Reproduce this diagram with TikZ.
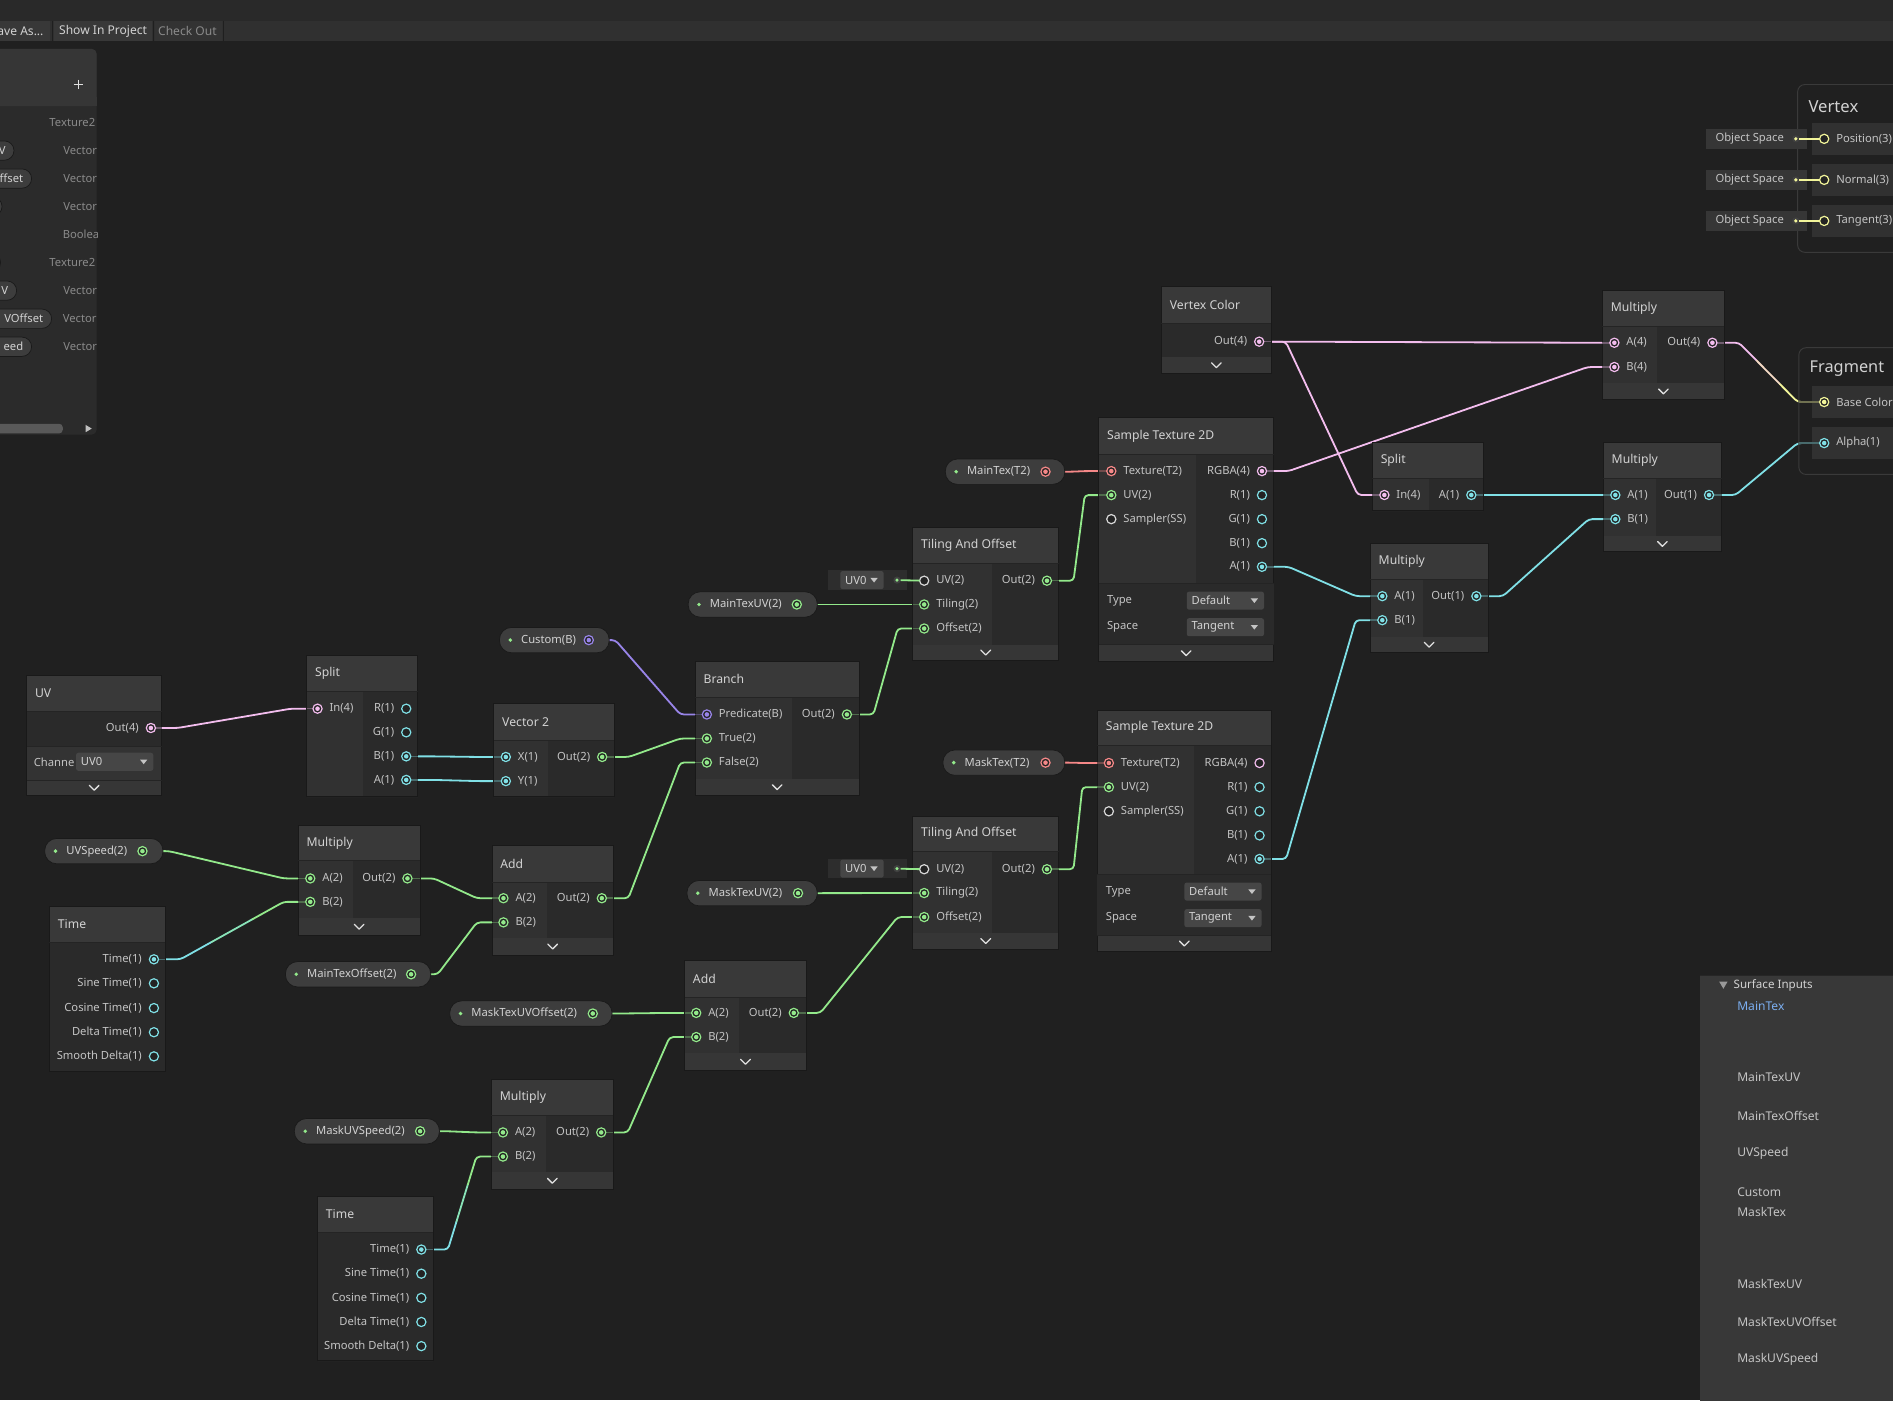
\documentclass[tikz,border=0pt]{standalone}
\usepackage{fontspec}
\setmainfont{Noto Sans}
\usetikzlibrary{calc}
\pgfdeclarelayer{bg}
\pgfdeclarelayer{wires}
\pgfsetlayers{bg,wires,main}
\definecolor{bgc}{HTML}{202020}
\definecolor{hdrc}{HTML}{393939}
\definecolor{inc}{HTML}{313131}
\definecolor{outc}{HTML}{2A2A2A}
\definecolor{footc}{HTML}{363636}
\definecolor{bordc}{HTML}{191919}
\definecolor{sepc}{HTML}{242424}
\definecolor{txtc}{HTML}{C4C4C4}
\definecolor{ttlc}{HTML}{D2D2D2}
\definecolor{dimc}{HTML}{8A8A8A}
\definecolor{pillc}{HTML}{3D3D3D}
\definecolor{pillb}{HTML}{1A1A1A}
\definecolor{pinkc}{HTML}{F3BDEE}
\definecolor{greenc}{HTML}{93E98B}
\definecolor{cyanc}{HTML}{80E0E6}
\definecolor{yellc}{HTML}{F2F59A}
\definecolor{redc}{HTML}{F58888}
\definecolor{purpc}{HTML}{9884E8}
\definecolor{whtc}{HTML}{D8D8D8}
\definecolor{ringbg}{HTML}{232323}
\definecolor{ddc}{HTML}{464646}
\definecolor{chevc}{HTML}{E0E0E0}
\definecolor{framec}{HTML}{3A3A3A}
\definecolor{rowc}{HTML}{313131}
\definecolor{panelc}{HTML}{383838}
\definecolor{bluec}{HTML}{7BAEF0}
\tikzset{
  every node/.style={inner sep=0pt,outer sep=0pt},
  lbl/.style={text=txtc,font=\fontsize{9.3}{11}\selectfont},
  ttl/.style={text=ttlc,font=\fontsize{10.1}{12}\selectfont,anchor=west},
  wire/.style={line width=1.5pt,rounded corners=3pt,line cap=round},
  portring/.style={circle,minimum size=7.6pt,line width=1pt,fill=ringbg},
}
% node body
\newcommand\gbox[9]{%
  \fill[hdrc] (#2,#3) rectangle (#4,#5);
  \fill[inc] (#2,#5) rectangle (#6,#7);
  \fill[outc] (#6,#5) rectangle (#4,#7);
  \fill[footc] (#2,#7) rectangle (#4,#8);
  \draw[line width=0.6pt,bordc] (#2,#3) rectangle (#4,#8);
  \draw[line width=0.6pt,sepc] (#2,#5) -- (#4,#5);
  \node[ttl] (#1) at ({#2+7},{(#3+#5)/2}) {#9};}
\newcommand\chev[2]{\draw[line width=1.1pt,chevc,line cap=round,line join=round] ({#1-4},{#2-2}) -- (#1,{#2+2}) -- ({#1+4},{#2-2});}
% ports
\newcommand\ipc[6]{%
  \draw[line width=1.3pt,#4!35!outc] (#5,#3) -- (#2,#3);
  \node[portring,draw=#4] (#1) at (#2,#3) {};
  \fill[#4] (#2,#3) circle (1.9pt);
  \node[lbl,anchor=west] (#1l) at ({#2+10},#3) {#6};}
\newcommand\ipo[5]{%
  \node[portring,draw=#4] (#1) at (#2,#3) {};
  \node[lbl,anchor=west] (#1l) at ({#2+10},#3) {#5};}
\newcommand\opc[6]{%
  \draw[line width=1.3pt,#4!35!outc] (#2,#3) -- (#5,#3);
  \node[portring,draw=#4] (#1) at (#2,#3) {};
  \fill[#4] (#2,#3) circle (1.9pt);
  \node[lbl,anchor=east] (#1l) at ({#2-10},#3) {#6};}
\newcommand\opo[5]{%
  \node[portring,draw=#4] (#1) at (#2,#3) {};
  \node[lbl,anchor=east] (#1l) at ({#2-10},#3) {#5};}
% pills
\newcommand\pill[7]{%
  \fill[pillc,draw=pillb,line width=0.6pt,rounded corners=10pt] (#2,{#4-10.5}) rectangle (#3,{#4+10.5});
  \fill[greenc] ({#2+9},#4) circle (1.6pt);
  \node[lbl,anchor=west,text=ttlc] (#1l) at ({#2+18},#4) {#5};
  \node[portring,draw=#6] (#1) at (#7,#4) {};
  \fill[#6] (#7,#4) circle (1.9pt);}
% dropdown
\newcommand\dd[5]{%
  \fill[ddc,rounded corners=2pt] (#2,{#4-7.5}) rectangle (#3,{#4+7.5});
  \node[lbl,anchor=west,text=ttlc] (#1) at ({#2+4},#4) {#5};
  \fill[txtc] ({#3-11},{#4-1.8}) -- ({#3-5},{#4-1.8}) -- ({#3-8},{#4+2}) -- cycle;}
\newcommand\uvbox[2]{%
  \fill[outc!80!hdrc] (686,{#2-8}) rectangle (751,{#2+8});
  \dd{#1t}{696}{732}{#2}{UV0}
  \node[circle,fill=black!75,minimum size=6pt] (#1) at (743,#2) {};
  \fill[greenc] (743,#2) circle (1.4pt);}
% wires
\newcommand\wire[3]{\begin{pgfonlayer}{wires}\draw[wire,#1] (#2.center) -- ++(22,0) -- ($(#3.center)+(-22,0)$) -- (#3.center);\end{pgfonlayer}}
\newcommand\gwire[4]{\begin{pgfonlayer}{wires}
  \coordinate (gwA) at ($(#3.center)+(22,0)$);
  \coordinate (gwB) at ($(#4.center)+(-22,0)$);
  \draw[wire,#1] (#3.center) -- (gwA) -- ($(gwA)!0.3!(gwB)$);
  \draw[wire,#1!50!#2] ($(gwA)!0.3!(gwB)$) -- ($(gwA)!0.7!(gwB)$);
  \draw[wire,#2] ($(gwA)!0.7!(gwB)$) -- (gwB) -- (#4.center);
\end{pgfonlayer}}
\begin{document}
\begin{tikzpicture}[x=1pt,y=-1pt]
\useasboundingbox (0,0) rectangle (1568,1160);
\begin{pgfonlayer}{bg}
\fill[bgc] (0,0) rectangle (1568,1160);
\end{pgfonlayer}
% ---------- top bar
\fill[black!84] (0,0) rectangle (1568,17);
\fill[black!81] (0,17) rectangle (1568,34);
\fill[black!78] (0,17) rectangle (41.5,34);
\fill[black!78] (45,17) rectangle (126,34);
\fill[black!80] (128,17) rectangle (184,34);
\draw[black!88,line width=1pt] (43.2,17) -- (43.2,34) (127,17) -- (127,34) (185,17) -- (185,34);
\node[anchor=east,text=ttlc,font=\fontsize{10}{11}\selectfont] (bSave) at (36,26) {ave As...};
\node[anchor=west,text=ttlc,font=\fontsize{10}{11}\selectfont] (bShow) at (49,26) {Show In Project};
\node[anchor=west,text=dimc,font=\fontsize{10}{11}\selectfont] (bCheck) at (131,26) {Check Out};
% ---------- blackboard
\begin{scope}
\clip (0,38) rectangle (80.5,362);
\fill[black!83,rounded corners=4pt] (-10,40.5) rectangle (80,360);
\fill[black!79,rounded corners=4pt] (-10,40.5) rectangle (80,88);
\fill[black!79] (-10,80) rectangle (80,88);
\draw[line width=1.1pt,chevc] (61,70) -- (69,70) (65,66) -- (65,74);
\foreach \tt/\yy/\xx [count=\i] in {Texture2/101.6/41,Vector/124.7/52.5,Vector/147.9/52.5,Vector/171/52.5,Boolea/194.3/52,Texture2/217.5/41,Vector/240.7/52.5,Vector/264/52,Vector/287.2/52.5}
  \node[lbl,text=dimc,anchor=west] (bbt\i) at (\xx,\yy) {\tt};
\foreach \ee/\yy/\tt [count=\i] in {11.6/124.7/V,26.2/147.9/ffset,1.7/171/{},0.5/217.5/{},13.8/240.7/V,42.8/264/VOffset,26.2/287.2/eed}{
  \fill[pillc,draw=pillb,line width=0.6pt,rounded corners=8pt] (-40,{\yy-8}) rectangle (\ee,{\yy+8});
  \node[lbl,text=ttlc,anchor=east] (bbp\i) at ({\ee-7},\yy) {\tt};}
\fill[black!65,rounded corners=3pt] (-5,351) rectangle (52,359);
\fill[black!25] (71,352) -- (76,355) -- (71,358) -- cycle;
\end{scope}
% ---------- Vertex / Fragment
\draw[framec,line width=0.8pt,rounded corners=6pt] (1620,209) -- (1489,209) -- (1489,70) -- (1620,70);
\node[anchor=west,text=ttlc,font=\fontsize{13.8}{15}\selectfont] (vtx) at (1498,88) {Vertex};
\foreach \yy in {115,149,183}{\fill[rowc] (1501,{\yy-13}) rectangle (1620,{\yy+13});
  \fill[black!79] (1413,{\yy-8}) rectangle (1497,{\yy+8});}
\ipo{vPos}{1511}{115}{yellc}{Position(3)}
\ipo{vNor}{1511}{149}{yellc}{Normal(3)}
\ipo{vTan}{1511}{183}{yellc}{Tangent(3)}
\foreach \yy/\nn in {115/os1,149/os2,183/os3}{
  \node[anchor=west,text=txtc,font=\fontsize{9.3}{11}\selectfont] (\nn l) at (1421,\yy) {Object Space};
  \node[circle,fill=black!75,minimum size=6pt] (\nn) at (1487.5,\yy) {};
  \fill[yellc] (1487.5,\yy) circle (1.5pt);}
\draw[line width=1.5pt,yellc] (os1) -- (vPos);
\draw[line width=1.5pt,yellc] (os2) -- (vNor);
\draw[line width=1.5pt,yellc] (os3) -- (vTan);
\draw[framec,line width=0.8pt,rounded corners=6pt] (1620,393) -- (1490,393) -- (1490,288) -- (1620,288);
\node[anchor=west,text=ttlc,font=\fontsize{13.5}{15}\selectfont] (frg) at (1499,305) {Fragment};
\fill[rowc] (1501,320) rectangle (1620,346);
\fill[rowc] (1501,354) rectangle (1620,380);
\ipc{fBase}{1511}{333}{yellc}{1490}{Base Color}
\ipc{fAlpha}{1511}{367}{cyanc}{1490}{Alpha(1)}
% ---------- Surface inputs panel
\fill[panelc] (1408,808) rectangle (1620,1170);
\draw[black!85,line width=0.8pt] (1408,808) -- (1568,808);
\fill[black!40] (1424,813) -- (1431,813) -- (1427.5,819) -- cycle;
\node[anchor=west,text=ttlc,font=\fontsize{9.6}{11}\selectfont\bfseries] (siH) at (1436,816) {Surface Inputs};
\node[anchor=west,text=bluec,font=\fontsize{10}{12}\selectfont] (si1) at (1439,833.5) {MainTex};
\foreach \tt/\yy [count=\i] in {MainTexUV/892.5,MainTexOffset/924,UVSpeed/955.5,Custom/987.5,MaskTex/1004,MaskTexUV/1063.5,MaskTexUVOffset/1095,MaskUVSpeed/1126}
  \node[anchor=west,text=txtc,font=\fontsize{10}{12}\selectfont] (sii\i) at (1439,\yy) {\tt};
% ---------- UV node
\fill[hdrc] (22,559) rectangle (134,589);
\fill[outc] (22,589) rectangle (134,618);
\fill[black!80] (22,618) rectangle (134,646);
\fill[footc] (22,646) rectangle (134,659);
\draw[line width=0.6pt,bordc] (22,559) rectangle (134,659);
\draw[line width=0.6pt,sepc] (22,589) -- (134,589) (22,618) -- (134,618) (22,646) -- (134,646);
\node[ttl] (nUV) at (29,574) {UV};
\opc{uvout}{125}{603}{pinkc}{134}{Out(4)}
\node[lbl,anchor=west] (uvch) at (28,631) {Channe};
\dd{uvdd}{63}{127}{631}{UV0}
\chev{78}{652.5}
% ---------- Split (left)
\gbox{nSplitL}{254}{543}{346}{572.5}{301}{660}{660}{Split}
\ipc{splIn}{263}{587}{pinkc}{254}{In(4)}
\opo{splR}{336.5}{587}{cyanc}{R(1)}
\opo{splG}{336.5}{606.6}{cyanc}{G(1)}
\opc{splB}{336.5}{626.5}{cyanc}{346}{B(1)}
\opc{splA}{336.5}{646}{cyanc}{346}{A(1)}
% ---------- Vector 2
\gbox{nVec2}{409}{583}{508.5}{613}{453.5}{660}{660}{Vector 2}
\ipc{v2X}{419}{627}{cyanc}{409}{X(1)}
\ipc{v2Y}{419}{647}{cyanc}{409}{Y(1)}
\opc{v2Out}{498.8}{627}{greenc}{508.5}{Out(2)}
% ---------- Multiply (left)
\gbox{nMulL}{247}{683.5}{348}{713}{292.5}{760.6}{774.6}{Multiply}
\chev{297.5}{767.6}
\ipc{mlA}{257}{727.6}{greenc}{247}{A(2)}
\ipc{mlB}{257}{747}{greenc}{247}{B(2)}
\opc{mlOut}{337.5}{727.6}{greenc}{348}{Out(2)}
% ---------- Add (left)
\gbox{nAddL}{407.5}{700}{508}{730.6}{453}{777}{791}{Add}
\chev{457.75}{784}
\ipc{alA}{417}{744}{greenc}{407.5}{A(2)}
\ipc{alB}{417}{764}{greenc}{407.5}{B(2)}
\opc{alOut}{498.5}{744}{greenc}{508}{Out(2)}
% ---------- Time (left)
\gbox{nTimeL}{41}{750.6}{137}{780.4}{41}{887}{887}{Time}
\opc{tlT}{127.5}{794.6}{cyanc}{137}{Time(1)}
\opo{tlS}{127.5}{814.5}{cyanc}{Sine Time(1)}
\opo{tlC}{127.5}{835}{cyanc}{Cosine Time(1)}
\opo{tlD}{127.5}{855}{cyanc}{Delta Time(1)}
\opo{tlM}{127.5}{875}{cyanc}{Smooth Delta(1)}
% ---------- Branch
\gbox{nBranch}{575.8}{547.6}{711.7}{577.8}{656.4}{645.4}{658.7}{Branch}
\chev{643.75}{652}
\ipc{brP}{585.5}{591.8}{purpc}{575.8}{Predicate(B)}
\ipc{brT}{585.5}{611.7}{greenc}{575.8}{True(2)}
\ipc{brF}{585.5}{631.6}{greenc}{575.8}{False(2)}
\opc{brOut}{701.5}{591.8}{greenc}{711.7}{Out(2)}
% ---------- Tiling And Offset (top)
\gbox{nTO1}{756}{437}{877}{467}{822}{534}{547}{Tiling And Offset}
\chev{816.5}{540.5}
\ipo{to1UV}{765.5}{481}{whtc}{UV(2)}
\ipc{to1T}{765.5}{500.7}{greenc}{756}{Tiling(2)}
\ipc{to1O}{765.5}{520.6}{greenc}{756}{Offset(2)}
\opc{to1Out}{867.2}{481}{greenc}{877}{Out(2)}
\uvbox{uvd1}{480.5}
\draw[line width=1.5pt,greenc] (uvd1) -- (to1UV);
% ---------- Tiling And Offset (bottom)
\gbox{nTO2}{756}{676}{877}{705}{822}{773}{786}{Tiling And Offset}
\chev{816.5}{779.5}
\ipo{to2UV}{765.5}{720}{whtc}{UV(2)}
\ipc{to2T}{765.5}{739.7}{greenc}{756}{Tiling(2)}
\ipc{to2O}{765.5}{759.6}{greenc}{756}{Offset(2)}
\opc{to2Out}{867.2}{720}{greenc}{877}{Out(2)}
\uvbox{uvd2}{719.5}
\draw[line width=1.5pt,greenc] (uvd2) -- (to2UV);
% ---------- Sample Texture 2D (top)
\gbox{nSTD1}{910}{346}{1055}{376}{991}{483}{548}{Sample Texture 2D}
\fill[outc] (910,483) rectangle (1055,534);
\draw[line width=0.6pt,sepc] (910,483) -- (1055,483) (910,534) -- (1055,534);
\chev{982.5}{541}
\ipc{std1Tex}{920.5}{390.2}{redc}{910}{Texture(T2)}
\ipc{std1UV}{920.5}{410.1}{greenc}{910}{UV(2)}
\ipo{std1S}{920.5}{430}{whtc}{Sampler(SS)}
\opc{std1RGBA}{1045.3}{390.2}{pinkc}{1055}{RGBA(4)}
\opo{std1R}{1045.3}{410.1}{cyanc}{R(1)}
\opo{std1G}{1045.3}{430}{cyanc}{G(1)}
\opo{std1B}{1045.3}{449.9}{cyanc}{B(1)}
\opc{std1A}{1045.3}{469.5}{cyanc}{1055}{A(1)}
\node[lbl,anchor=west] (std1ty) at (917,497.5) {Type};
\dd{std1tyd}{983}{1047}{497.5}{Default}
\node[lbl,anchor=west] (std1sp) at (917,519.5) {Space};
\dd{std1spd}{983}{1047}{519.5}{Tangent}
% ---------- Sample Texture 2D (bottom)
\gbox{nSTD2}{909}{588}{1053}{617}{989}{724}{788}{Sample Texture 2D}
\fill[outc] (909,724) rectangle (1053,775);
\draw[line width=0.6pt,sepc] (909,724) -- (1053,724) (909,775) -- (1053,775);
\chev{981}{781.5}
\ipc{std2Tex}{918.5}{632}{redc}{909}{Texture(T2)}
\ipc{std2UV}{918.5}{652}{greenc}{909}{UV(2)}
\ipo{std2S}{918.5}{672}{whtc}{Sampler(SS)}
\opo{std2RGBA}{1043.3}{632}{pinkc}{RGBA(4)}
\opo{std2R}{1043.3}{652}{cyanc}{R(1)}
\opo{std2G}{1043.3}{672}{cyanc}{G(1)}
\opo{std2B}{1043.3}{692}{cyanc}{B(1)}
\opc{std2A}{1043.3}{711.5}{cyanc}{1053}{A(1)}
\node[lbl,anchor=west] (std2ty) at (916,738.5) {Type};
\dd{std2tyd}{981}{1045}{738.5}{Default}
\node[lbl,anchor=west] (std2sp) at (916,760.5) {Space};
\dd{std2spd}{981}{1045}{760.5}{Tangent}
% ---------- Vertex Color
\gbox{nVC}{962}{237.5}{1053}{268}{962}{296}{309}{Vertex Color}
\chev{1007.5}{302.5}
\opc{vcOut}{1043}{283}{pinkc}{1053}{Out(4)}
% ---------- Split (right)
\gbox{nSplitR}{1136.7}{366.5}{1228.7}{396.3}{1184}{423}{423}{Split}
\ipc{srIn}{1146.7}{410}{pinkc}{1136.7}{In(4)}
\opc{srA}{1218.7}{410}{cyanc}{1228.7}{A(1)}
% ---------- Multiply (middle)
\gbox{nMulM}{1135}{450}{1232.5}{479.7}{1179}{527.5}{540.7}{Multiply}
\chev{1183.75}{534}
\ipc{mmA}{1145}{493.8}{cyanc}{1135}{A(1)}
\ipc{mmB}{1145}{513.7}{cyanc}{1135}{B(1)}
\opc{mmOut}{1222.9}{493.8}{cyanc}{1232.5}{Out(1)}
% ---------- Multiply (top right)
\gbox{nMulT}{1327.3}{240.3}{1428.3}{270}{1372.8}{317.6}{330.8}{Multiply}
\chev{1377.8}{324.2}
\ipc{mtA}{1337.2}{283.9}{pinkc}{1327.3}{A(4)}
\ipc{mtB}{1337.2}{304}{pinkc}{1327.3}{B(4)}
\opc{mtOut}{1418.4}{283.9}{pinkc}{1428.3}{Out(4)}
% ---------- Multiply (right)
\gbox{nMulR}{1328}{366.5}{1426}{396.3}{1372}{444}{457}{Multiply}
\chev{1377}{450.5}
\ipc{mrA}{1338}{410}{cyanc}{1328}{A(1)}
\ipc{mrB}{1338}{430}{cyanc}{1328}{B(1)}
\opc{mrOut}{1415.6}{410}{cyanc}{1426}{Out(1)}
% ---------- Add (right)
\gbox{nAddR}{567}{795.4}{668}{825.8}{612}{872.6}{886.5}{Add}
\chev{617.5}{879.5}
\ipc{arA}{576.7}{839}{greenc}{567}{A(2)}
\ipc{arB}{576.7}{859}{greenc}{567}{B(2)}
\opc{arOut}{657.5}{839}{greenc}{668}{Out(2)}
% ---------- Multiply (bottom)
\gbox{nMulB}{407}{894}{508}{924}{452.5}{971}{985}{Multiply}
\chev{457.5}{978}
\ipc{mbA}{416.6}{938}{greenc}{407}{A(2)}
\ipc{mbB}{416.6}{958}{greenc}{407}{B(2)}
\opc{mbOut}{498}{938}{greenc}{508}{Out(2)}
% ---------- Time (bottom)
\gbox{nTimeB}{263}{991}{358.6}{1021}{263}{1127}{1127}{Time}
\opc{tbT}{349}{1035}{cyanc}{358.6}{Time(1)}
\opo{tbS}{349}{1055}{cyanc}{Sine Time(1)}
\opo{tbC}{349}{1075}{cyanc}{Cosine Time(1)}
\opo{tbD}{349}{1095}{cyanc}{Delta Time(1)}
\opo{tbM}{349}{1115}{cyanc}{Smooth Delta(1)}
% ---------- property pills
\pill{pCustom}{413.7}{504.6}{530.2}{Custom(B)}{purpc}{487.7}
\pill{pMainTexUV}{570}{677}{500.7}{MainTexUV(2)}{greenc}{660}
\pill{pMainTex}{783}{882}{390.7}{MainTex(T2)}{redc}{866}
\pill{pMaskTex}{781}{882}{631.7}{MaskTex(T2)}{redc}{866}
\pill{pMaskTexUV}{569}{677}{739.8}{MaskTexUV(2)}{greenc}{661}
\pill{pUVSpeed}{37}{135}{705}{UVSpeed(2)}{greenc}{118}
\pill{pMainTexOffset}{236.4}{356.8}{807}{MainTexOffset(2)}{greenc}{340.5}
\pill{pMaskTexUVOffset}{372.5}{507}{839.5}{MaskTexUVOffset(2)}{greenc}{491}
\pill{pMaskUVSpeed}{243.8}{364}{937}{MaskUVSpeed(2)}{greenc}{348}
% ---------- wires
\wire{pinkc}{uvout}{splIn}
\wire{cyanc}{splB}{v2X}
\wire{cyanc}{splA}{v2Y}
\wire{greenc}{v2Out}{brT}
\wire{purpc}{pCustom}{brP}
\wire{greenc}{alOut}{brF}
\wire{greenc}{pUVSpeed}{mlA}
\gwire{cyanc}{greenc}{tlT}{mlB}
\wire{greenc}{mlOut}{alA}
\wire{greenc}{pMainTexOffset}{alB}
\wire{greenc}{brOut}{to1O}
\wire{greenc}{pMainTexUV}{to1T}
\wire{greenc}{to1Out}{std1UV}
\wire{redc}{pMainTex}{std1Tex}
\wire{pinkc}{std1RGBA}{mtB}
\wire{pinkc}{vcOut}{mtA}
\wire{pinkc}{vcOut}{srIn}
\wire{cyanc}{std1A}{mmA}
\wire{cyanc}{std2A}{mmB}
\wire{cyanc}{mmOut}{mrB}
\wire{cyanc}{srA}{mrA}
\wire{cyanc}{mrOut}{fAlpha}
\gwire{pinkc}{yellc}{mtOut}{fBase}
\wire{redc}{pMaskTex}{std2Tex}
\wire{greenc}{to2Out}{std2UV}
\wire{greenc}{pMaskTexUV}{to2T}
\wire{greenc}{arOut}{to2O}
\wire{greenc}{pMaskTexUVOffset}{arA}
\wire{greenc}{mbOut}{arB}
\wire{greenc}{pMaskUVSpeed}{mbA}
\gwire{cyanc}{greenc}{tbT}{mbB}
\end{tikzpicture}
\end{document}
